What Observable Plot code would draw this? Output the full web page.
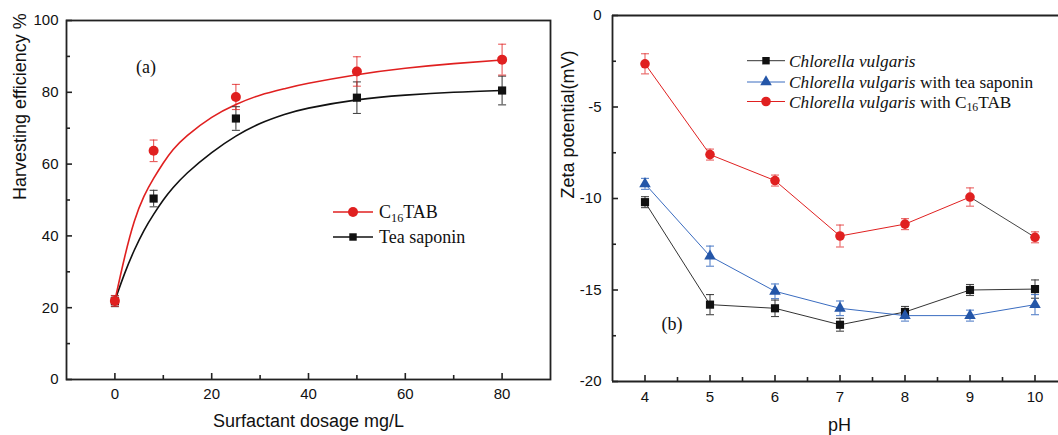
<!DOCTYPE html>
<html><head><meta charset="utf-8">
<script src="https://cdn.jsdelivr.net/npm/d3@7"></script>
<script src="https://cdn.jsdelivr.net/npm/@observablehq/plot@0.6"></script>
<style>
body{margin:0;background:#fff;overflow:hidden}
#wrap{display:flex;width:1058px;height:435px;overflow:hidden}
#wrap svg{display:block;flex:none}
</style></head><body><div id="wrap"></div>
<script>
// ---------- Panel (a) data ----------
const dosage = [0, 8, 25, 50, 80];
const c16tabEff = [21.9, 63.7, 78.7, 85.8, 89.1];
const c16tabErr = [1.5, 3.0, 3.5, 4.1, 4.3];
const teaEff = [21.8, 50.4, 72.7, 78.5, 80.5];
const teaErr = [1.5, 2.3, 3.3, 4.4, 4.0];
const fitDosage = [0, 2, 4, 6, 8, 10, 12, 15, 20, 25, 30, 35, 40, 50, 60, 70, 80];
const c16tabFit = [22, 34, 44, 51, 56, 60.3, 64, 68, 73, 76.6, 79.2, 81, 82.5, 84.9, 86.7, 88, 89];
const teaFit = [22, 29.5, 36, 41.5, 46, 50, 53.4, 57.6, 63.2, 67.8, 71.3, 73.8, 75.6, 77.9, 79.2, 80, 80.5];
const xTicksA = [0, 20, 40, 60, 80];
const xMinorA = [10, 30, 50, 70];
const yTicksA = [0, 20, 40, 60, 80, 100];
const yMinorA = [10, 30, 50, 70, 90];

// ---------- Panel (b) data ----------
const pH = [4, 5, 6, 7, 8, 9, 10];
const cvZeta = [-10.2, -15.8, -16.0, -16.9, -16.2, -15.0, -14.95];
const cvErr = [0.3, 0.55, 0.45, 0.35, 0.3, 0.3, 0.5];
const teaZeta = [-9.2, -13.15, -15.07, -16.0, -16.4, -16.4, -15.8];
const teaZetaErr = [0.3, 0.55, 0.4, 0.4, 0.3, 0.3, 0.55];
const c16Zeta = [-2.64, -7.6, -9.02, -12.05, -11.4, -9.92, -12.12];
const c16ZetaErr = [0.55, 0.3, 0.3, 0.6, 0.3, 0.5, 0.3];
const xTicksB = [4, 5, 6, 7, 8, 9, 10];
const xMinorB = [4.5, 5.5, 6.5, 7.5, 8.5, 9.5];
const yTicksB = [0, -5, -10, -15, -20];
const yMinorB = [-2.5, -7.5, -12.5, -17.5];

// ---------- styles ----------
const RED = "#e02020", BLUE = "#2456a8", BLACK = "#111", LINEBLUE = "#3a6cc0";
const SANS = "'Liberation Sans', Arial, sans-serif";
const SERIF = "'Liberation Serif', 'Times New Roman', serif";
const capSymbol = {draw(ctx, size) { const r = Math.sqrt(size / Math.PI); ctx.moveTo(-r, 0); ctx.lineTo(r, 0); }};
const fmt = d => String(d);

function errMarks(data, color, opacity) {
  return [
    Plot.ruleX(data, {x: "x", y1: d => d.y - d.e, y2: d => d.y + d.e, stroke: color, strokeWidth: 1.1, strokeOpacity: opacity}),
    Plot.dot(data, {x: "x", y: d => d.y - d.e, symbol: capSymbol, r: 4, stroke: color, fill: "none", strokeWidth: 1.1, strokeOpacity: opacity}),
    Plot.dot(data, {x: "x", y: d => d.y + d.e, symbol: capSymbol, r: 4, stroke: color, fill: "none", strokeWidth: 1.1, strokeOpacity: opacity})
  ];
}

// ---------- Panel (a) ----------
const aC16 = dosage.map((x, i) => ({x, y: c16tabEff[i], e: c16tabErr[i]}));
const aTea = dosage.map((x, i) => ({x, y: teaEff[i], e: teaErr[i]}));
const aC16Fit = fitDosage.map((x, i) => ({x, y: c16tabFit[i]}));
const aTeaFit = fitDosage.map((x, i) => ({x, y: teaFit[i]}));

const WA = 552, HA = 435, mLA = 66, mRA = 2, mTA = 20, mBA = 56;
const innerWA = WA - mLA - mRA, innerHA = HA - mTA - mBA;

const plotA = Plot.plot({
  width: WA, height: HA, marginLeft: mLA, marginRight: mRA, marginTop: mTA, marginBottom: mBA,
  style: {fontFamily: SANS, color: BLACK, background: "white", maxWidth: "none", overflow: "visible"},
  x: {domain: [-10, 90]},
  y: {domain: [0, 100]},
  marks: [
    Plot.line(aTeaFit, {x: "x", y: "y", stroke: BLACK, strokeWidth: 1.6, curve: "natural"}),
    Plot.line(aC16Fit, {x: "x", y: "y", stroke: RED, strokeWidth: 1.6, curve: "natural"}),
    ...errMarks(aTea, "#333", 0.9),
    ...errMarks(aC16, RED, 0.75),
    Plot.dot(aTea, {x: "x", y: "y", symbol: "square", r: 4.6, fill: BLACK}),
    Plot.dot(aC16, {x: "x", y: "y", symbol: "circle", r: 5, fill: RED}),
    Plot.frame({stroke: "#222", strokeWidth: 1.8}),
    Plot.tickX(xTicksA, {x: d => d, insetTop: innerHA - 6, stroke: "#222", strokeWidth: 1.6}),
    Plot.tickX(xMinorA, {x: d => d, insetTop: innerHA - 4, stroke: "#222", strokeWidth: 1.6}),
    Plot.tickY(yTicksA, {y: d => d, insetRight: innerWA - 6, stroke: "#222", strokeWidth: 1.6}),
    Plot.tickY(yMinorA, {y: d => d, insetRight: innerWA - 4, stroke: "#222", strokeWidth: 1.6}),
    Plot.axisX({ticks: xTicksA, tickSize: 0, tickPadding: 9, fontSize: 15, label: null, tickFormat: fmt}),
    Plot.axisY({ticks: yTicksA, tickSize: 0, tickPadding: 8, fontSize: 15, label: null, tickFormat: fmt}),
    Plot.text(["Surfactant dosage mg/L"], {frameAnchor: "bottom", dy: 42, lineAnchor: "middle", fontSize: 18, fill: BLACK}),
    Plot.text(["Harvesting efficiency %"], {frameAnchor: "left", dx: -46, rotate: -90, lineAnchor: "middle", fontSize: 18, fill: BLACK}),
    Plot.text(["(a)"], {frameAnchor: "top-left", dx: 69.5, dy: 47, lineAnchor: "middle", fontSize: 18, fontFamily: SERIF, fill: BLACK})
  ]
});

// ---------- Panel (b) ----------
const mk = (ys, es) => pH.map((x, i) => ({x, y: ys[i], e: es[i]}));
const bCv = mk(cvZeta, cvErr);
const bTea = mk(teaZeta, teaZetaErr);
const bC16 = mk(c16Zeta, c16ZetaErr);

const WB = 1058 - WA, HB = 435, mLB = 60, mTB = 15, mBB = 54;
const innerWB = WB - mLB, innerHB = HB - mTB - mBB;

const plotB = Plot.plot({
  width: WB, height: HB, marginLeft: mLB, marginRight: 0, marginTop: mTB, marginBottom: mBB,
  style: {fontFamily: SANS, color: BLACK, background: "white", maxWidth: "none", overflow: "visible"},
  x: {domain: [3.5, 10.5], range: [mLB, mLB + 455]},
  y: {domain: [-20, 0]},
  marks: [
    Plot.line(bCv, {x: "x", y: "y", stroke: "#333", strokeWidth: 1}),
    Plot.line(bTea, {x: "x", y: "y", stroke: LINEBLUE, strokeWidth: 1}),
    Plot.line(bC16.filter(d => d.x <= 9), {x: "x", y: "y", stroke: RED, strokeWidth: 1}),
    Plot.line(bC16.filter(d => d.x >= 9), {x: "x", y: "y", stroke: "#444", strokeWidth: 1}),
    ...errMarks(bCv, "#333", 0.9),
    ...errMarks(bTea, LINEBLUE, 0.85),
    ...errMarks(bC16, RED, 0.7),
    Plot.dot(bCv, {x: "x", y: "y", symbol: "square", r: 4.6, fill: BLACK}),
    Plot.dot(bTea, {x: "x", y: "y", symbol: "triangle", r: 4.3, fill: BLUE}),
    Plot.dot(bC16, {x: "x", y: "y", symbol: "circle", r: 4.8, fill: RED}),
    Plot.ruleY([0, -20], {y: d => d, stroke: "#222", strokeWidth: 1.8}),
    Plot.ruleX([3.5], {x: d => d, stroke: "#222", strokeWidth: 1.8}),
    Plot.tickX(xTicksB, {x: d => d, insetTop: innerHB - 6, stroke: "#222", strokeWidth: 1.6}),
    Plot.tickX(xMinorB, {x: d => d, insetTop: innerHB - 4, stroke: "#222", strokeWidth: 1.6}),
    Plot.tickY(yTicksB, {y: d => d, insetRight: innerWB - 6, stroke: "#222", strokeWidth: 1.6}),
    Plot.tickY(yMinorB, {y: d => d, insetRight: innerWB - 4, stroke: "#222", strokeWidth: 1.6}),
    Plot.axisX({ticks: xTicksB, tickSize: 0, tickPadding: 10, fontSize: 15, label: null, tickFormat: fmt}),
    Plot.axisY({ticks: yTicksB, tickSize: 0, tickPadding: 11, fontSize: 15, label: null, tickFormat: fmt}),
    Plot.text(["pH"], {frameAnchor: "bottom", dx: 4, dy: 44, lineAnchor: "middle", fontSize: 18, fill: BLACK}),
    Plot.text(["Zeta potential(mV)"], {frameAnchor: "left", dx: -44, rotate: -90, lineAnchor: "middle", fontSize: 18, fill: BLACK}),
    Plot.text(["(b)"], {frameAnchor: "top-left", dx: 49, dy: 309, lineAnchor: "middle", fontSize: 18, fontFamily: SERIF, fill: BLACK})
  ]
});

// ---------- Legends ----------
function legend(svg, items, opts) {
  const g = d3.select(svg).append("g").attr("font-family", SERIF).attr("font-size", opts.fontSize)
    .attr("fill", BLACK).attr("text-anchor", "start");
  items.forEach((it, i) => {
    const y = opts.rows[i];
    g.append("line").attr("x1", opts.x1).attr("x2", opts.x2).attr("y1", y).attr("y2", y)
      .attr("stroke", it.line).attr("stroke-width", opts.lw);
    g.append("path").attr("transform", `translate(${opts.xm},${y})`)
      .attr("d", d3.symbol(it.symbol, Math.PI * it.r * it.r)()).attr("fill", it.fill);
    const t = g.append("text").attr("x", opts.xt).attr("y", y).attr("dy", "0.35em").attr("text-anchor", "start");
    it.parts.forEach(p => {
      const s = t.append("tspan").text(p.t);
      if (p.italic) s.attr("font-style", "italic");
      if (p.sub) s.attr("font-size", opts.fontSize * 0.68).attr("dy", "0.3em");
      if (p.after) s.attr("dy", "-0.2em");
    });
  });
}
const c16Parts = [{t: "C"}, {t: "16", sub: true}, {t: "TAB", after: true}];
legend(plotA, [
  {line: RED, symbol: d3.symbolCircle, r: 5, fill: RED, parts: c16Parts},
  {line: BLACK, symbol: d3.symbolSquare, r: 4.2, fill: BLACK, parts: [{t: "Tea saponin"}]}
], {x1: 333, x2: 373, xm: 353, xt: 379, rows: [212, 237], fontSize: 18, lw: 1.6});

legend(plotB, [
  {line: "#333", symbol: d3.symbolSquare, r: 4.2, fill: BLACK, parts: [{t: "Chlorella vulgaris", italic: true}]},
  {line: LINEBLUE, symbol: d3.symbolTriangle, r: 4.3, fill: BLUE, parts: [{t: "Chlorella vulgaris", italic: true}, {t: " with tea saponin"}]},
  {line: RED, symbol: d3.symbolCircle, r: 4.8, fill: RED, parts: [{t: "Chlorella vulgaris", italic: true}, {t: " with C"}, {t: "16", sub: true}, {t: "TAB", after: true}]}
], {x1: 747 - WA, x2: 785 - WA, xm: 766 - WA, xt: 789 - WA, rows: [60.7, 82, 101.5], fontSize: 17.3, lw: 1});

const wrap = document.getElementById("wrap");
wrap.appendChild(plotA);
wrap.appendChild(plotB);
</script></body></html>
